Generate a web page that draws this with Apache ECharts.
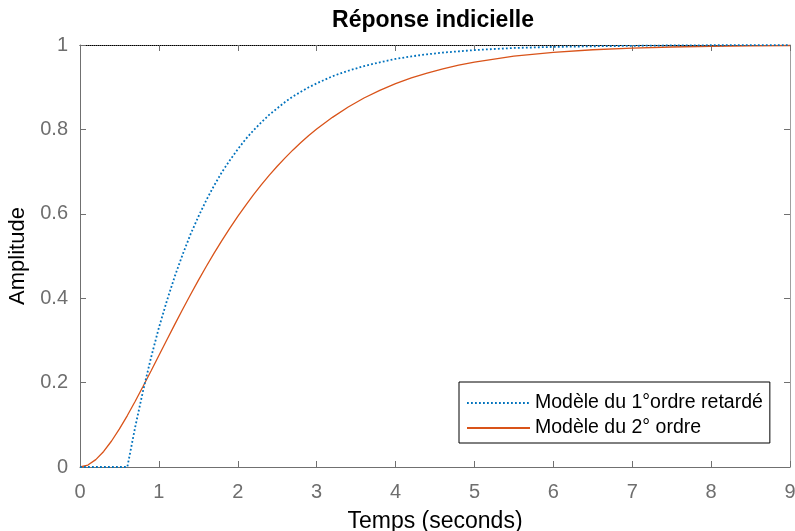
<!DOCTYPE html>
<html>
<head>
<meta charset="utf-8">
<script src="https://cdn.jsdelivr.net/npm/echarts@6/dist/echarts.min.js"></script>
<style>html,body{margin:0;padding:0;background:#fff}#c{width:795px;height:531px}</style>
</head>
<body>
<div id="c"></div>
<script>
const times = [0,0.1,0.2,0.3,0.4,0.5,0.6,0.7,0.8,0.9,1.0,1.1,1.2,1.3,1.4,1.5,1.6,1.7,1.8,1.9,2.0,2.1,2.2,2.3,2.4,2.5,2.6,2.7,2.8,2.9,3.0,3.2,3.4,3.6,3.8,4.0,4.2,4.4,4.6,4.8,5.0,5.5,6.0,6.5,7.0,7.5,8.0,8.5,9.0];
const firstOrderDelayed = [0,0,0,0,0,0,0,0.095,0.181,0.259,0.330,0.393,0.451,0.503,0.551,0.593,0.632,0.667,0.699,0.727,0.753,0.777,0.798,0.817,0.835,0.850,0.865,0.878,0.889,0.900,0.909,0.926,0.939,0.950,0.959,0.967,0.973,0.978,0.982,0.985,0.988,0.993,0.9955,0.997,0.998,0.999,0.9994,0.9996,0.9998];
const secondOrder = [0,0.0047,0.0175,0.0369,0.0616,0.0902,0.1219,0.1558,0.1913,0.2275,0.2642,0.3009,0.3374,0.3732,0.4082,0.4422,0.4751,0.5067,0.5372,0.5662,0.5940,0.6202,0.6454,0.6690,0.6916,0.7127,0.7325,0.7514,0.7690,0.7855,0.8008,0.8286,0.8530,0.8744,0.8925,0.9085,0.9220,0.9336,0.9437,0.9524,0.9596,0.9734,0.9826,0.9887,0.9927,0.9953,0.9970,0.9981,0.9988];
const seriesNames = ['Modèle du 1°ordre retardé','Modèle du 2° ordre'];
const titleText = 'Réponse indicielle';
const xName = 'Temps (seconds)';
const yName = 'Amplitude';

const FONT = 'Liberation Sans, Arial, Helvetica, sans-serif';
const AXIS_GRAY = '#707070';
const chart = echarts.init(document.getElementById('c'));
const pair = (arr) => times.map((t,i)=>[t,arr[i]]);
chart.setOption({
  animation:false,
  backgroundColor:'#fff',
  title:{text:titleText,left:433,top:9,padding:0,textAlign:'center',
    textStyle:{fontFamily:FONT,fontSize:23,fontWeight:'bold',color:'#000'}},
  grid:{left:80,right:5,top:45,bottom:64,containLabel:false,outerBoundsMode:'none'},
  legend:{
    orient:'vertical',left:459,top:382,
    backgroundColor:'#fff',borderColor:'#000',borderWidth:1,borderRadius:0,
    padding:[11,7,5,7],itemGap:5,itemWidth:63,itemHeight:14,
    itemStyle:{opacity:0},
    textStyle:{fontFamily:FONT,fontSize:19.5,color:'#000'},
    data:seriesNames
  },
  xAxis:[{
    type:'value',min:0,max:9,interval:1,position:'bottom',
    name:xName,nameLocation:'middle',nameGap:43,
    nameTextStyle:{fontFamily:FONT,fontSize:23,color:'#000'},
    axisLine:{show:true,onZero:false,lineStyle:{color:AXIS_GRAY,width:1}},
    axisTick:{show:true,inside:true,length:6,lineStyle:{color:AXIS_GRAY}},
    axisLabel:{fontFamily:FONT,fontSize:20,color:'#6e6e6e',margin:15},
    splitLine:{show:false}
  },{
    type:'value',min:0,max:9,interval:1,position:'top',
    axisLine:{show:true,onZero:false,lineStyle:{color:'#000',width:1,type:[1,1]}},
    axisTick:{show:true,inside:true,length:6,lineStyle:{color:AXIS_GRAY}},
    axisLabel:{show:false},splitLine:{show:false}
  }],
  yAxis:[{
    type:'value',min:0,max:1,interval:0.2,position:'left',
    name:yName,nameLocation:'middle',nameGap:45,
    nameTextStyle:{fontFamily:FONT,fontSize:22,color:'#000'},
    axisLine:{show:true,onZero:false,lineStyle:{color:AXIS_GRAY,width:1}},
    axisTick:{show:true,inside:true,length:6,lineStyle:{color:AXIS_GRAY}},
    axisLabel:{fontFamily:FONT,fontSize:20,color:'#6e6e6e',margin:12,
      formatter:(v)=> (v===0||v===1)? String(v) : v.toFixed(1)},
    splitLine:{show:false}
  },{
    type:'value',min:0,max:1,interval:0.2,position:'right',
    axisLine:{show:true,onZero:false,lineStyle:{color:'#a0a0a0',width:1}},
    axisTick:{show:true,inside:true,length:6,lineStyle:{color:AXIS_GRAY}},
    axisLabel:{show:false},splitLine:{show:false}
  }],
  series:[{
    name:seriesNames[0],type:'line',xAxisIndex:0,yAxisIndex:0,
    data:pair(firstOrderDelayed),showSymbol:false,symbol:'none',
    lineStyle:{color:'#0072BD',width:1.8,type:[1.8,2.2]},
    itemStyle:{color:'#0072BD'},z:3
  },{
    name:seriesNames[1],type:'line',xAxisIndex:0,yAxisIndex:0,
    data:pair(secondOrder),showSymbol:false,symbol:'none',
    lineStyle:{color:'#D95319',width:1.3},
    itemStyle:{color:'#D95319'},z:2
  },{
    name:'_box',type:'line',xAxisIndex:1,yAxisIndex:1,
    data:[],showSymbol:false,symbol:'none',silent:true
  }]
});
</script>
</body>
</html>
